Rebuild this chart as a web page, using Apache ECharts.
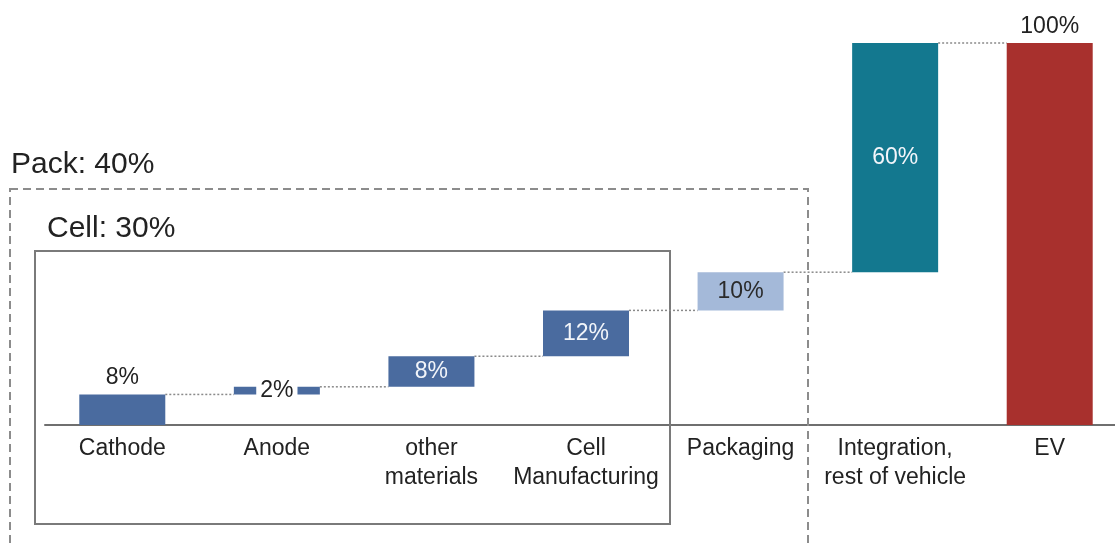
<!DOCTYPE html>
<html>
<head>
<meta charset="utf-8">
<script src="https://cdn.jsdelivr.net/npm/echarts@6/dist/echarts.min.js"></script>
<style>
  html, body { margin: 0; padding: 0; background: #ffffff; overflow: hidden; }
  /* the plot runs a little past the right edge of the window */
  #chart { width: 1127px; height: 545px; }
</style>
</head>
<body>
<div id="chart"></div>
<script>
// Cost build-up of an EV, share of total (%)
const categories = ['Cathode', 'Anode', 'other\nmaterials', 'Cell\nManufacturing', 'Packaging', 'Integration,\nrest of vehicle', 'EV'];
const shares = [8, 2, 8, 12, 10, 60, 100];
const isTotal = [false, false, false, false, false, false, true];
const valueLabels = ['8%', '2%', '8%', '12%', '10%', '60%', '100%'];

// Group annotations
const packLabel = 'Pack: 40%';
const cellLabel = 'Cell: 30%';

const barColors = ['#4a6b9f', '#4a6b9f', '#4a6b9f', '#4a6b9f', '#a4b9d9', '#13788f', '#a8302d'];
const labelColors = ['#222', '#222', '#f2f5fa', '#f2f5fa', '#2a2a2a', '#f2f5fa', '#222'];
const labelPositions = ['top', 'inside', 'inside', 'inside', 'inside', 'inside', 'top'];

// Floating bases: running total for steps, zero for the total bar
const bases = [];
const levels = [];
let running = 0;
shares.forEach((v, i) => {
  if (isTotal[i]) {
    bases.push(0);
    levels.push(v);
  } else {
    bases.push(running);
    running += v;
    levels.push(running);
  }
});

const BAR_WIDTH = 86;
const fontFamily = '"Liberation Sans", Arial, Helvetica, sans-serif';

const chart = echarts.init(document.getElementById('chart'), null, { renderer: 'canvas' });

chart.setOption({
  animation: false,
  backgroundColor: '#ffffff',
  grid: { left: 45, right: 0, top: 43, height: 382, containLabel: false },
  xAxis: {
    type: 'category',
    data: categories,
    axisLine: { show: true, lineStyle: { color: '#6f6f6f', width: 2 } },
    axisTick: { show: false },
    axisLabel: {
      color: '#222',
      fontSize: 23,
      lineHeight: 29,
      margin: 9,
      fontFamily: fontFamily,
      interval: 0
    },
    splitLine: { show: false }
  },
  yAxis: {
    type: 'value',
    min: 0,
    max: 100,
    show: false,
    splitLine: { show: false }
  },
  series: [
    {
      name: 'base',
      type: 'bar',
      stack: 'wf',
      barWidth: BAR_WIDTH,
      silent: true,
      itemStyle: { color: 'transparent' },
      data: bases
    },
    {
      name: 'share',
      type: 'bar',
      stack: 'wf',
      barWidth: BAR_WIDTH,
      data: shares.map((v, i) => ({
        value: v,
        itemStyle: { color: barColors[i] },
        label: {
          show: true,
          position: labelPositions[i],
          distance: 5,
          formatter: valueLabels[i],
          color: labelColors[i],
          fontSize: 23,
          fontFamily: fontFamily,
          backgroundColor: i === 1 ? '#ffffff' : 'transparent',
          padding: i === 1 ? [0, 4] : 0
        }
      })),
      z: 3
    },
    {
      // dotted connectors from each bar's top to the next bar
      name: 'connectors',
      type: 'custom',
      silent: true,
      z: 2,
      data: levels.slice(0, levels.length - 1).map((lv, i) => [i, lv]),
      renderItem: function (params, api) {
        const i = api.value(0);
        const lv = api.value(1);
        const half = BAR_WIDTH / 2;
        const p1 = api.coord([i, lv]);
        const p2 = api.coord([i + 1, lv]);
        return {
          type: 'line',
          shape: { x1: p1[0] + half, y1: p1[1], x2: p2[0] - half, y2: p2[1] },
          style: { stroke: '#8a8a8a', lineWidth: 1.5, lineDash: [2, 2] }
        };
      }
    }
  ],
  graphic: [
    {
      type: 'rect',
      shape: { x: 10, y: 189, width: 798, height: 380 },
      style: { fill: 'none', stroke: '#8c8c8c', lineWidth: 2, lineDash: [8, 5] },
      z: 1
    },
    {
      type: 'rect',
      shape: { x: 35, y: 251, width: 635, height: 273 },
      style: { fill: 'none', stroke: '#7a7a7a', lineWidth: 2 },
      z: 1
    },
    {
      type: 'text',
      left: 11,
      top: 150,
      style: { text: packLabel, fontSize: 30, fontFamily: fontFamily, fill: '#222' }
    },
    {
      type: 'text',
      left: 47,
      top: 214,
      style: { text: cellLabel, fontSize: 30, fontFamily: fontFamily, fill: '#222' }
    }
  ]
});
</script>
</body>
</html>
